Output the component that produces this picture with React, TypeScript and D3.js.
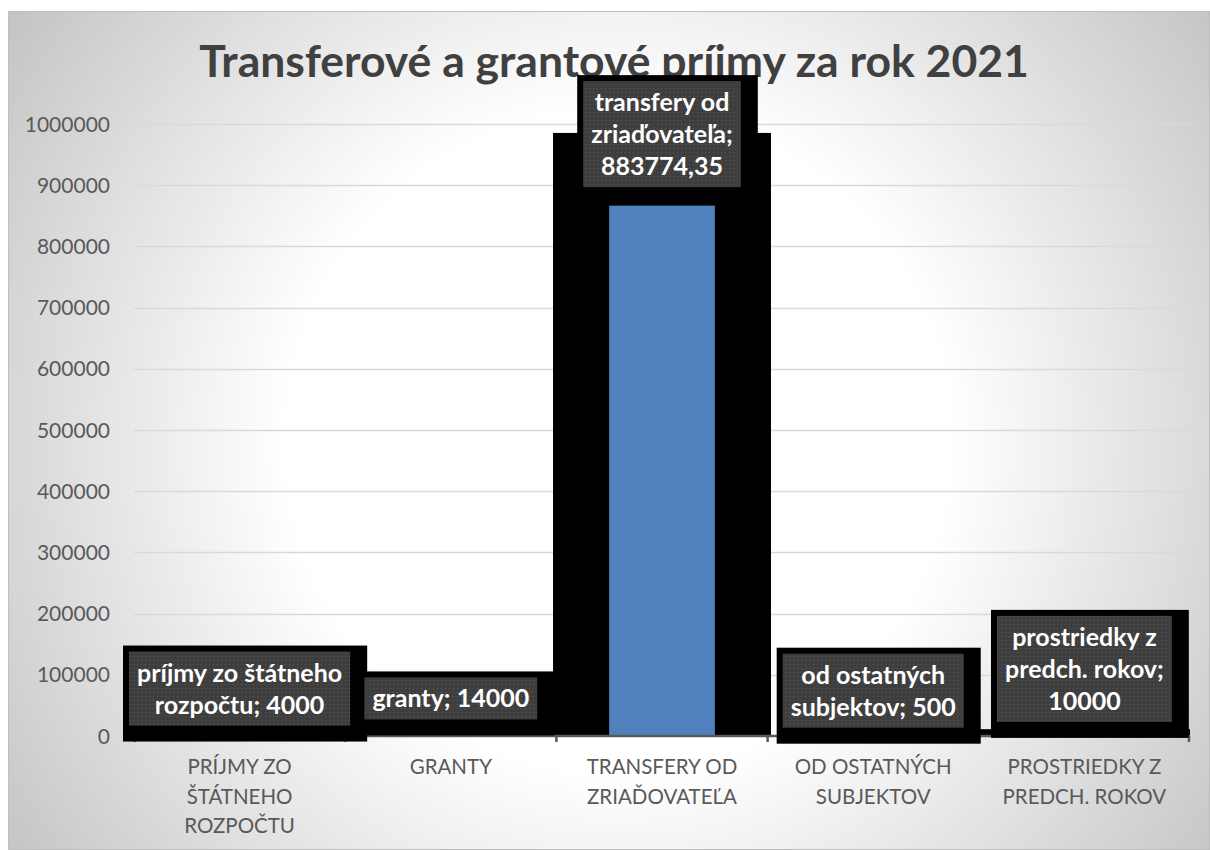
import React, { useEffect, useRef } from 'react';
import * as d3 from 'd3';

const title = 'Transferové a grantové príjmy za rok 2021';
const categories = [
  'Príjmy zo štátneho rozpočtu',
  'Granty',
  'Transfery od zriaďovateľa',
  'Od ostatných subjektov',
  'Prostriedky z predch. rokov',
];
const categoryTickLines = [
  ['PRÍJMY ZO', 'ŠTÁTNEHO', 'ROZPOČTU'],
  ['GRANTY'],
  ['TRANSFERY OD', 'ZRIAĎOVATEĽA'],
  ['OD OSTATNÝCH', 'SUBJEKTOV'],
  ['PROSTRIEDKY Z', 'PREDCH. ROKOV'],
];
const values = [4000, 14000, 883774.35, 500, 10000];
const dataLabelLines = [
  ['príjmy zo štátneho', 'rozpočtu; 4000'],
  ['granty; 14000'],
  ['transfery od', 'zriaďovateľa;', '883774,35'],
  ['od ostatných', 'subjektov; 500'],
  ['prostriedky z', 'predch. rokov;', '10000'],
];
const yTicks = [0, 100000, 200000, 300000, 400000, 500000, 600000, 700000, 800000, 900000, 1000000];

const W = 1202;
const H = 839;
const FONT = 'Lato, "Open Sans", sans-serif';

export default function App() {
  const ref = useRef<SVGSVGElement | null>(null);

  useEffect(() => {
    const svg = d3.select(ref.current);
    svg.selectAll('*').remove();

    const defs = svg.append('defs');
    const rg = defs
      .append('radialGradient')
      .attr('id', 'bg')
      .attr('gradientUnits', 'userSpaceOnUse')
      .attr('cx', 610)
      .attr('cy', 430)
      .attr('r', 790);
    rg.append('stop').attr('offset', 0).attr('stop-color', '#ffffff');
    rg.append('stop').attr('offset', 0.42).attr('stop-color', '#ffffff');
    rg.append('stop').attr('offset', 1).attr('stop-color', '#bdbdbd');

    const pat = defs
      .append('pattern')
      .attr('id', 'dots')
      .attr('width', 4)
      .attr('height', 4)
      .attr('patternUnits', 'userSpaceOnUse');
    pat.append('rect').attr('width', 4).attr('height', 4).attr('fill', '#3e3e3e');
    pat.append('rect').attr('x', 1).attr('y', 1).attr('width', 1).attr('height', 1).attr('fill', '#575757');

    defs
      .append('clipPath')
      .attr('id', 'plotclip')
      .append('rect')
      .attr('x', 126)
      .attr('y', 0)
      .attr('width', 1056)
      .attr('height', 725);

    svg
      .append('rect')
      .attr('x', 0.5)
      .attr('y', 0.5)
      .attr('width', W - 1)
      .attr('height', H - 1)
      .attr('fill', 'url(#bg)')
      .attr('stroke', '#bfbfbf')
      .attr('stroke-width', 1);

    // title
    svg
      .append('text')
      .attr('x', 606)
      .attr('y', 66)
      .attr('text-anchor', 'middle')
      .attr('font-family', FONT)
      .attr('font-weight', 700)
      .attr('font-size', 44.5)
      .attr('fill', '#404040')
      .text(title);

    const x = d3
      .scaleBand<string>()
      .domain(categories)
      .range([126, 1182])
      .paddingInner(0.4)
      .paddingOuter(0.2);
    const step = x.step();
    const y = d3.scaleLinear().domain([0, 1000000]).range([725, 113]);

    // gridlines
    svg
      .append('g')
      .selectAll('line')
      .data(yTicks.slice(1))
      .join('line')
      .attr('x1', 126)
      .attr('x2', 1182)
      .attr('y1', (d) => Math.round(y(d)) + 0.5)
      .attr('y2', (d) => Math.round(y(d)) + 0.5)
      .attr('stroke', '#d9d9d9')
      .attr('stroke-width', 1.5);

    // y labels
    svg
      .append('g')
      .selectAll('text')
      .data(yTicks)
      .join('text')
      .attr('x', 102)
      .attr('y', (d) => y(d))
      .attr('dy', '0.36em')
      .attr('text-anchor', 'end')
      .attr('font-family', FONT)
      .attr('font-size', 21)
      .attr('fill', '#595959')
      .text((d) => String(d));

    const bw = x.bandwidth();
    const plot = svg.append('g').attr('clip-path', 'url(#plotclip)');

    // bar shadows
    plot
      .selectAll('rect.shadow')
      .data(values)
      .join('rect')
      .attr('class', 'shadow')
      .attr('x', (d, i) => (x(categories[i]) as number) + bw / 2 - (bw * 1.72) / 2)
      .attr('width', bw * 1.72)
      .attr('y', (d) => y(0) - (y(0) - y(d)) * 1.115)
      .attr('height', (d) => (y(0) - y(d)) * 1.115 + 2)
      .attr('fill', '#000');

    // bars with thick black outline
    plot
      .selectAll('rect.bar')
      .data(values)
      .join('rect')
      .attr('class', 'bar')
      .attr('x', (d, i) => x(categories[i]) as number)
      .attr('width', bw)
      .attr('y', (d) => y(d))
      .attr('height', (d) => y(0) - y(d) + 12)
      .attr('fill', '#4f81bd')
      .attr('stroke', '#000')
      .attr('stroke-width', 21);

    // x axis line
    svg
      .append('line')
      .attr('x1', 126)
      .attr('x2', 1182)
      .attr('y1', 725)
      .attr('y2', 725)
      .attr('stroke', '#595959')
      .attr('stroke-width', 2.5);
    svg
      .append('g')
      .selectAll('line')
      .data(d3.range(categories.length + 1))
      .join('line')
      .attr('x1', (i) => 126 + i * step + (i === 0 ? 1 : i === categories.length ? -1 : 0))
      .attr('x2', (i) => 126 + i * step + (i === 0 ? 1 : i === categories.length ? -1 : 0))
      .attr('y1', 725)
      .attr('y2', 731)
      .attr('stroke', '#595959')
      .attr('stroke-width', 2.5);

    // category labels
    const cat = svg
      .append('g')
      .selectAll('text')
      .data(categoryTickLines)
      .join('text')
      .attr('text-anchor', 'middle')
      .attr('font-family', FONT)
      .attr('font-size', 20.5)
      .attr('fill', '#595959');
    cat.each(function (lines, i) {
      const cx = (x(categories[i]) as number) + bw / 2;
      d3.select(this)
        .selectAll('tspan')
        .data(lines)
        .join('tspan')
        .attr('x', cx)
        .attr('y', (_, j) => 763 + j * 29.5)
        .text((t) => t);
    });

    // data labels
    const lg = svg.append('g');
    values.forEach((v, i) => {
      const lines = dataLabelLines[i];
      const cx = (x(categories[i]) as number) + bw / 2;
      const g = lg.append('g');
      const shadow = g.append('rect').attr('fill', '#000');
      const box = g.append('rect').attr('fill', 'url(#dots)');
      const bh = 32 * lines.length + 10;
      const top = y(v) - 8 - bh;
      const txt = g
        .append('text')
        .attr('text-anchor', 'middle')
        .attr('font-family', FONT)
        .attr('font-weight', 700)
        .attr('font-size', 25)
        .attr('fill', '#ffffff');
      txt
        .selectAll('tspan')
        .data(lines)
        .join('tspan')
        .attr('x', cx)
        .attr('y', (_, j) => top + 30 + 32 * j)
        .text((t) => t);
      const tw = (txt.node() as SVGTextElement).getBBox().width;
      const bwid = tw + 16;
      box.attr('x', cx - bwid / 2).attr('y', top).attr('width', bwid).attr('height', bh);
      shadow
        .attr('x', cx - bwid / 2 - 6)
        .attr('y', top - 6)
        .attr('width', bwid + 23)
        .attr('height', bh + 22);
    });
  }, []);

  return (
    <svg
      ref={ref}
      width={W}
      height={H}
      style={{ position: 'absolute', left: 8, top: 11, display: 'block' }}
    />
  );
}
